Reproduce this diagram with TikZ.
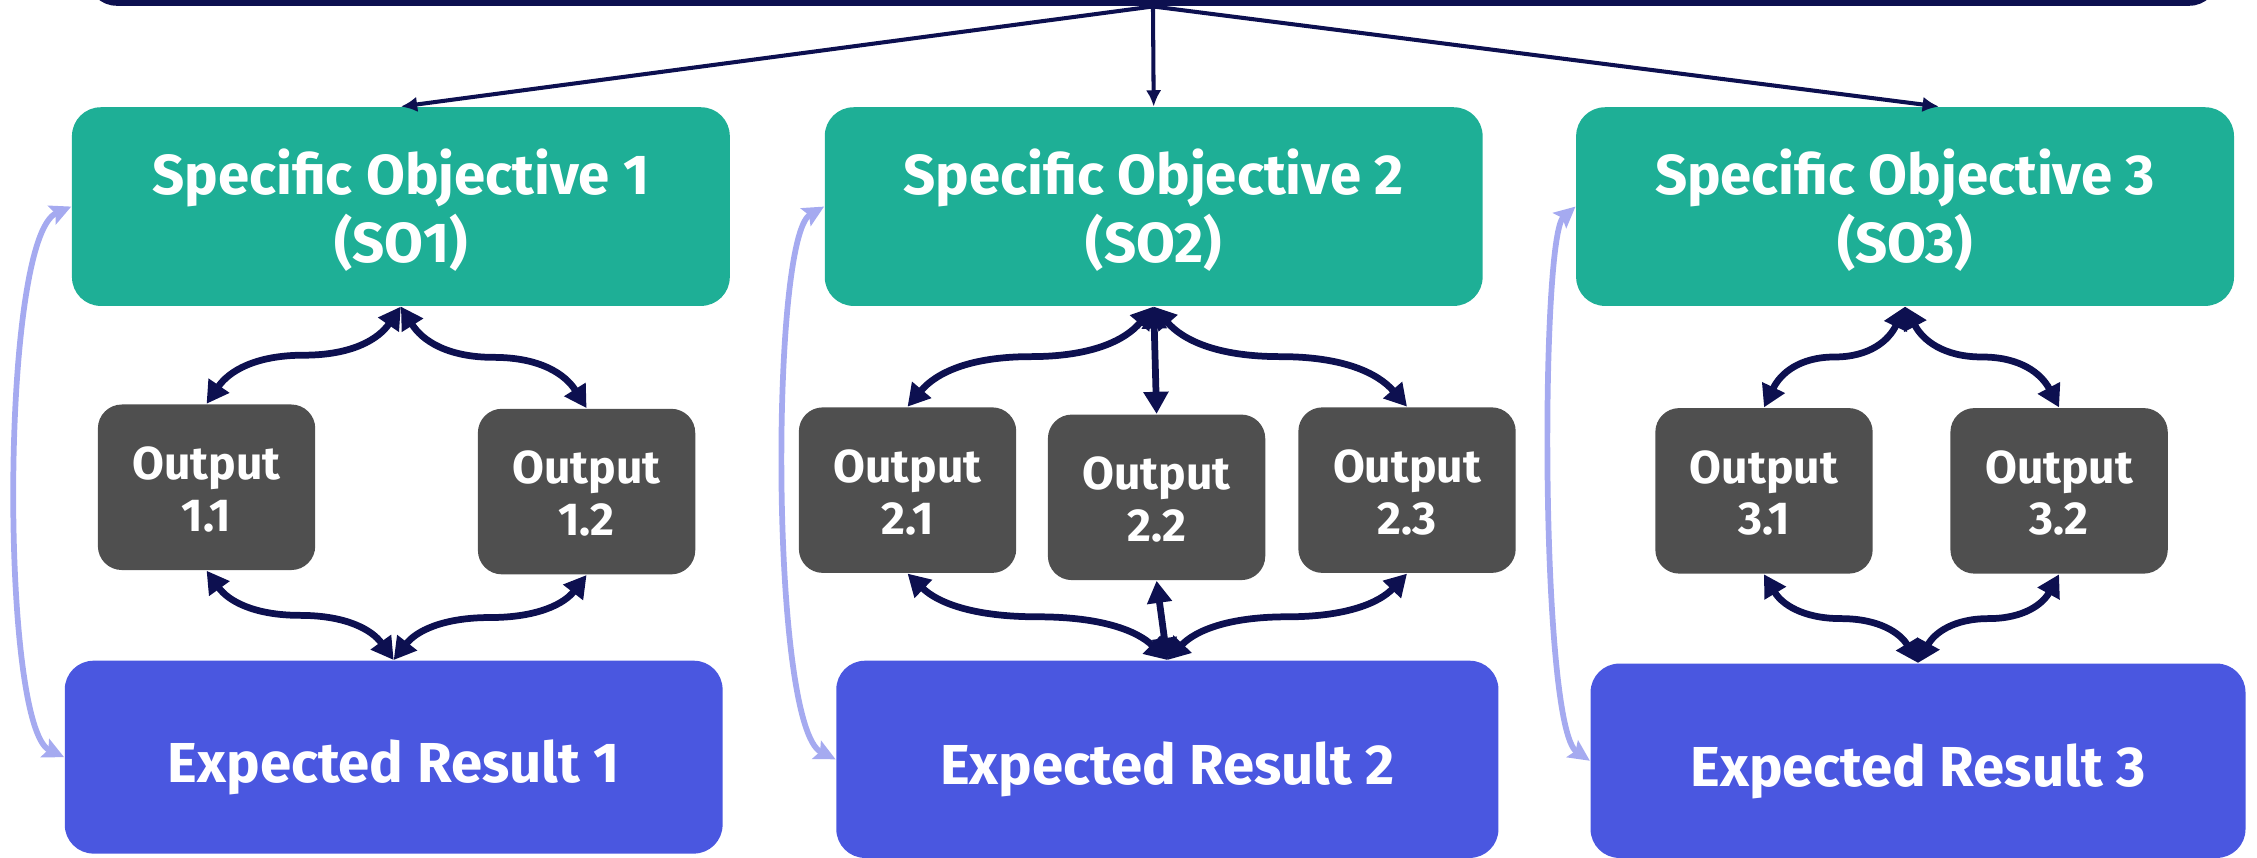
\documentclass[tikz,border=0pt]{standalone}
\usepackage{fontspec}
\setmainfont{Fira Sans}
\usetikzlibrary{arrows.meta,calc}
\definecolor{navyCol}{RGB}{13,16,80}
\definecolor{soCol}{RGB}{30,175,150}
\definecolor{outCol}{RGB}{79,79,79}
\definecolor{erCol}{RGB}{74,87,224}
\definecolor{lavCol}{RGB}{165,170,240}
\newcommand\boxtext[2]{\raisebox{#1}[\height][\depth]{\begin{tabular}{@{}c@{}}#2\end{tabular}}}
\tikzset{
 sobox/.style={fill=soCol, rounded corners=0.3cm, text=white, font=\fontsize{16.7}{19.3}\selectfont\bfseries, inner sep=0pt, minimum width=6.855cm, minimum height=2.07cm},
 outbox/.style={fill=outCol, rounded corners=0.25cm, text=white, font=\fontsize{13.7}{15.4}\selectfont\bfseries, inner sep=0pt, minimum width=2.265cm, minimum height=1.725cm},
 erbox/.style={fill=erCol, rounded corners=0.3cm, text=white, font=\fontsize{16.7}{19.3}\selectfont\bfseries, inner sep=0pt, minimum width=6.855cm, minimum height=2.01cm},
 goalbox/.style={fill=navyCol, rounded corners=0.3cm, inner sep=0pt, minimum width=22.2cm, minimum height=1.5cm},
 toparrow/.style={draw=navyCol, line width=1.2pt, -{Latex[length=0.17cm,width=0.16cm]}},
 link/.style={draw=navyCol, line width=2pt, {Triangle[length=0.23cm,width=0.25cm]}-{Triangle[length=0.23cm,width=0.25cm]}},
 lav/.style={draw=lavCol, line width=1.7pt, {Stealth[length=0.22cm,width=0.21cm,inset=0.04cm]}-{Stealth[length=0.22cm,width=0.21cm,inset=0.04cm]}},
}
\newcommand\wavelink[2]{%
 \draw[link] let \p1=(#1), \p2=(#2) in
  (\p1) .. controls ({\x1+0.115*(\x2-\x1)},{\y1+0.335*(\y2-\y1)}) and ({\x1+0.25*(\x2-\x1)},{0.5*(\y1+\y2)})
  .. ({0.5*(\x1+\x2)},{0.5*(\y1+\y2)})
  .. controls ({\x1+0.75*(\x2-\x1)},{0.5*(\y1+\y2)}) and ({\x1+0.885*(\x2-\x1)},{\y1+0.665*(\y2-\y1)})
  .. (\p2);}
\begin{document}
\begin{tikzpicture}[x=0.015cm,y=-0.015cm]
\useasboundingbox (0,0) rectangle (1568,596);
\clip (0,0) rectangle (1568,596);
\node[goalbox] (goal) at (801,-46) {};
% specific objectives
\node[sobox] (so1) at (278.5,143.5) {\boxtext{-2.6pt}{Specific Objective 1\\(SO1)}};
\node[sobox] (so2) at (801.5,143.5) {\boxtext{-2.6pt}{Specific Objective 2\\(SO2)}};
\node[sobox] (so3) at (1323.5,143.5) {\boxtext{-2.6pt}{Specific Objective 3\\(SO3)}};
% outputs
\node[outbox] (o11) at (143.5,338.5) {\boxtext{-2.3pt}{Output\\1.1}};
\node[outbox] (o12) at (407.5,341.5) {\boxtext{-2.3pt}{Output\\1.2}};
\node[outbox] (o21) at (630.5,340.5) {\boxtext{-2.3pt}{Output\\2.1}};
\node[outbox] (o22) at (803.5,345.5) {\boxtext{-2.3pt}{Output\\2.2}};
\node[outbox] (o23) at (977.5,340.5) {\boxtext{-2.3pt}{Output\\2.3}};
\node[outbox] (o31) at (1225.5,341) {\boxtext{-2.3pt}{Output\\3.1}};
\node[outbox] (o32) at (1430.5,341) {\boxtext{-2.3pt}{Output\\3.2}};
% expected results
\node[erbox] (er1) at (273.5,526) {\boxtext{-3.7pt}{Expected Result 1}};
\node[erbox, minimum width=6.9cm, minimum height=2.055cm] (er2) at (811,527.5) {\boxtext{-3.7pt}{Expected Result 2}};
\node[erbox, minimum width=6.825cm, minimum height=2.025cm] (er3) at (1332.5,528.5) {\boxtext{-3.7pt}{Expected Result 3}};
% top arrows
\draw[toparrow] (goal.south) -- (so1.north);
\draw[toparrow] (goal.south) -- (so2.north);
\draw[toparrow] (goal.south) -- (1347,0 |- so3.north);
% column 1
\wavelink{so1.south}{o11.north}
\wavelink{so1.south}{o12.north}
\wavelink{er1.north}{o11.south}
\wavelink{er1.north}{o12.south}
% column 2
\wavelink{so2.south}{o21.north}
\wavelink{so2.south}{o23.north}
\draw[link] (so2.south) -- (o22.north);
\wavelink{er2.north}{o21.south}
\wavelink{er2.north}{o23.south}
\draw[link] (o22.south) -- (er2.north);
% column 3
\wavelink{so3.south}{o31.north}
\wavelink{so3.south}{o32.north}
\wavelink{er3.north}{o31.south}
\wavelink{er3.north}{o32.south}
% lavender feedback arrows
\draw[lav] (so1.west) .. controls (0,165) and (0,505) .. (er1.west);
\draw[lav] (so2.west) .. controls (535,165) and (535,505) .. (er2.west);
\draw[lav] (so3.west) .. controls (1070,165) and (1070,505) .. (er3.west);
\end{tikzpicture}
\end{document}
